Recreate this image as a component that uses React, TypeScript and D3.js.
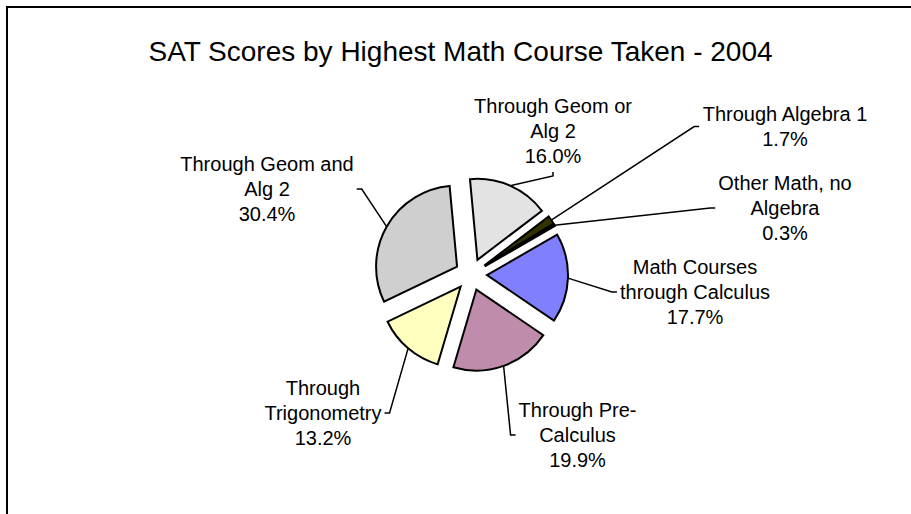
import React from "react";
import * as d3 from "d3";

// ---- data ----
const categories = [
  "Through Geom or Alg 2",
  "Through Algebra 1",
  "Other Math, no Algebra",
  "Math Courses through Calculus",
  "Through Pre-Calculus",
  "Through Trigonometry",
  "Through Geom and Alg 2",
];
const values = [16.0, 1.7, 0.3, 17.7, 19.9, 13.2, 30.4];
const labelLines = [
  ["Through Geom or", "Alg 2"],
  ["Through Algebra 1"],
  ["Other Math, no", "Algebra"],
  ["Math Courses", "through Calculus"],
  ["Through Pre-", "Calculus"],
  ["Through", "Trigonometry"],
  ["Through Geom and", "Alg 2"],
];
const title = "SAT Scores by Highest Math Course Taken - 2004";

// ---- styling / layout ----
const colors = ["#E3E3E3", "#333300", "#F4F4F4", "#8080FF", "#C08CAC", "#FFFFC0", "#CFCFCF"];
const labelLayout = [
  { x: 553, y: 113, side: "bottom" },
  { x: 785, y: 121, side: "left" },
  { x: 785, y: 190, side: "left" },
  { x: 695, y: 274, side: "left" },
  { x: 577.5, y: 417, side: "left" },
  { x: 323, y: 395, side: "right" },
  { x: 267, y: 171, side: "right" },
];

const W = 911;
const H = 514;
const CX = 471;
const CY = 274.5;
const R = 81;
const EXPLODE = 16;
const START = (-5.3 * Math.PI) / 180;
const FONT = "'Liberation Sans', Arial, sans-serif";
const LABEL_SIZE = 20;
const LINE_H = 25;

let ctx: CanvasRenderingContext2D | null = null;
function textWidth(s: string, size: number) {
  if (!ctx) ctx = document.createElement("canvas").getContext("2d");
  if (!ctx) return s.length * size * 0.5;
  ctx.font = `${size}px 'Liberation Sans'`;
  return ctx.measureText(s).width;
}

export default function App() {
  const pie = d3
    .pie<number>()
    .sort(null)
    .value((d) => d)
    .startAngle(START)
    .endAngle(START + 2 * Math.PI);
  const arcs = pie(values);
  const arc = d3.arc<d3.PieArcDatum<number>>().innerRadius(0).outerRadius(R);

  return (
    <svg
      width={W}
      height={H}
      style={{ position: "absolute", left: 0, top: 0, background: "#fff" }}
    >
      <rect x={0} y={0} width={W} height={H} fill="#fff" />
      <path d={`M7,${H} V7 H${W}`} fill="none" stroke="#000" strokeWidth={2} />
      <text
        x={460.5}
        y={61}
        textAnchor="middle"
        fontFamily={FONT}
        fontSize={28}
        fill="#000"
      >
        {title}
      </text>
      {arcs.map((a, i) => {
        const mid = (a.startAngle + a.endAngle) / 2;
        const ox = EXPLODE * Math.sin(mid);
        const oy = -EXPLODE * Math.cos(mid);
        return (
          <path
            key={categories[i]}
            d={arc(a) || ""}
            transform={`translate(${CX + ox},${CY + oy})`}
            fill={colors[i]}
            stroke="#000"
            strokeWidth={2}
            strokeLinejoin="miter"
          />
        );
      })}
      {arcs.map((a, i) => {
        const mid = (a.startAngle + a.endAngle) / 2;
        const ecx = CX + EXPLODE * Math.sin(mid);
        const ecy = CY - EXPLODE * Math.cos(mid);
        const sx = ecx + R * Math.sin(mid);
        const sy = ecy - R * Math.cos(mid);
        const L = labelLayout[i];
        const lines = [...labelLines[i], `${values[i].toFixed(1)}%`];
        const maxW = d3.max(lines, (s) => textWidth(s, LABEL_SIZE)) || 0;
        const midY = L.y + ((lines.length - 1) * LINE_H) / 2 - 7;
        let pts: [number, number][];
        if (L.side === "left") {
          const ex = L.x - maxW / 2 - 3;
          pts = [[sx, sy], [ex - 5, midY], [ex, midY]];
        } else if (L.side === "right") {
          const ex = L.x + maxW / 2 + 3;
          pts = [[sx, sy], [ex + 5, midY], [ex, midY]];
        } else {
          const ey = L.y + (lines.length - 1) * LINE_H + 9;
          pts = [[sx, sy], [L.x, ey + 4], [L.x, ey]];
        }
        const line = d3.line();
        return (
          <g key={"lbl" + i}>
            <path d={line(pts) || ""} fill="none" stroke="#000" strokeWidth={1.5} />
            <text
              textAnchor="middle"
              fontFamily={FONT}
              fontSize={LABEL_SIZE}
              fill="#000"
            >
              {lines.map((s, j) => (
                <tspan key={j} x={L.x} y={L.y + j * LINE_H}>
                  {s}
                </tspan>
              ))}
            </text>
          </g>
        );
      })}
    </svg>
  );
}
